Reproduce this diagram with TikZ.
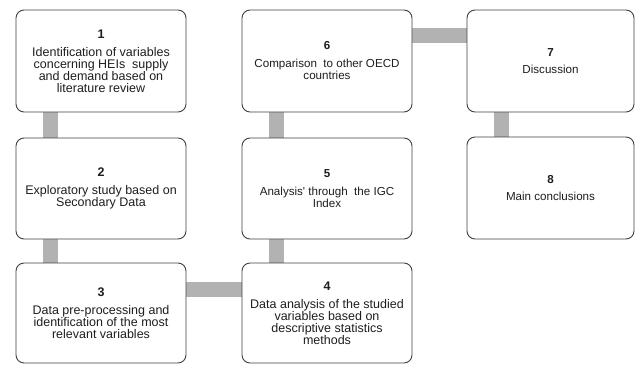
\documentclass[tikz,border=0pt]{standalone}
\usepackage{fontspec}
\setmainfont{Liberation Sans}
\usetikzlibrary{backgrounds}
\definecolor{barcol}{RGB}{178,178,178}
\definecolor{edgecol}{RGB}{64,64,64}
\definecolor{txtcol}{RGB}{30,30,30}
\tikzset{
  stepbox/.style={draw=edgecol, line width=0.9pt, rounded corners=8pt, fill=white,
    inner sep=0pt, align=center, text=txtcol, anchor=center},
  bigtxt/.style={font=\fontsize{12.5}{12}\selectfont},
  smalltxt/.style={font=\fontsize{11.6}{12}\selectfont},
  bar/.style={draw=barcol, line width=15pt}
}
\begin{document}
\begin{tikzpicture}[x=1pt,y=-1pt]
\useasboundingbox (0,0) rectangle (635,365);
% boxes
\node[stepbox,bigtxt,minimum width=170pt,minimum height=102pt] (b1) at (101,61)
  {\textbf{1}\\[6pt]Identification of variables\\concerning HEIs~ supply\\and demand based on\\literature review};
\node[stepbox,bigtxt,minimum width=170pt,minimum height=101pt] (b2) at (101,188.5)
  {\textbf{2}\\[6pt]Exploratory study based on\\Secondary Data};
\node[stepbox,bigtxt,minimum width=170pt,minimum height=100pt] (b3) at (101,313)
  {\textbf{3}\\[6pt]Data pre-processing and\\identification of the most\\relevant variables};
\node[stepbox,bigtxt,minimum width=170pt,minimum height=100pt] (b4) at (327,313)
  {\textbf{4}\\[6pt]Data analysis of the studied\\variables based on\\descriptive statistics\\methods};
\node[stepbox,smalltxt,minimum width=170pt,minimum height=101pt] (b5) at (327,188.5)
  {\textbf{5}\\[6pt]Analysis\textquotesingle{} through~ the IGC\\Index};
\node[stepbox,smalltxt,minimum width=170pt,minimum height=102pt] (b6) at (327,61)
  {\textbf{6}\\[6pt]Comparison~ to other OECD\\countries};
\node[stepbox,smalltxt,minimum width=167pt,minimum height=102pt] (b7) at (550.5,61)
  {\textbf{7}\\[5pt]Discussion};
\node[stepbox,smalltxt,minimum width=167pt,minimum height=102pt] (b8) at (550.5,188)
  {\textbf{8}\\[5pt]Main conclusions};
% connectors
\begin{scope}[on background layer]
\draw[bar] ([xshift=34.5pt]b1.south west) -- ([xshift=34.5pt]b2.north west);
\draw[bar] ([xshift=34.5pt]b2.south west) -- ([xshift=34.5pt]b3.north west);
\draw[bar] ([yshift=-27pt]b3.north east) -- ([yshift=-27pt]b4.north west);
\draw[bar] ([xshift=34.5pt]b4.north west) -- ([xshift=34.5pt]b5.south west);
\draw[bar] ([xshift=34.5pt]b5.north west) -- ([xshift=34.5pt]b6.south west);
\draw[bar] ([yshift=-25.5pt]b6.north east) -- ([yshift=-25.5pt]b7.north west);
\draw[bar] ([xshift=34.5pt]b7.south west) -- ([xshift=34.5pt]b8.north west);
\end{scope}
\end{tikzpicture}
\end{document}
